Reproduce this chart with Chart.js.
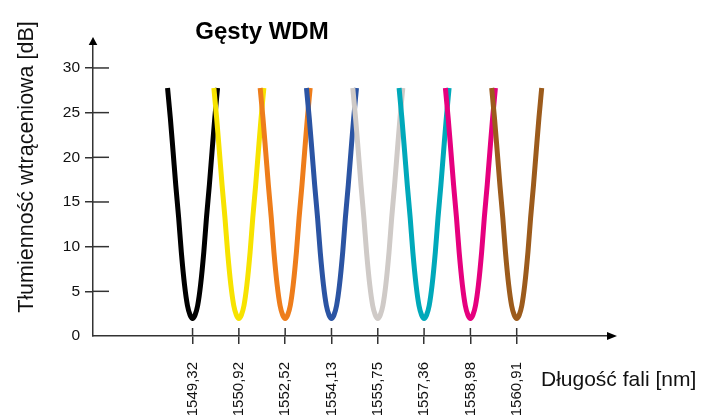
<!DOCTYPE html>
<html>
<head>
<meta charset="utf-8">
<script src="https://cdn.jsdelivr.net/npm/chart.js@4/dist/chart.umd.min.js"></script>
<style>
  body { margin: 0; background: #fff; }
  #wrap { width: 717px; height: 416px; }
</style>
</head>
<body>
<div id="wrap"><canvas id="myChart" width="717" height="416"></canvas></div>
<script>
'use strict';

// kanaly DWDM [nm], rowno rozstawione na osi
let channels = ['1549,32', '1550,92', '1552,52', '1554,13', '1555,75', '1557,36', '1558,98', '1560,91'];
let channelPos = [1, 2, 3, 4, 5, 6, 7, 8];
let curveColors = ['#000000', '#f7e300', '#ee7d1b', '#2b54a3', '#cfcac7', '#00a9ba', '#e6007e', '#9c5b1c'];

// ksztalt jednej krzywej (przesuniecie od srodka kanalu, tlumiennosc w dB)
let shapeOffset = [-0.54, -0.48, -0.42, -0.363, -0.30, -0.243, -0.173, -0.11, -0.054, 0,
                   0.054, 0.11, 0.173, 0.243, 0.30, 0.363, 0.42, 0.48, 0.54];
let shapeLoss = [27.75, 24.4, 20.6, 16.9, 13.2, 9.4, 5.7, 3.4, 2.35, 1.95,
                 2.35, 3.4, 5.7, 9.4, 13.2, 16.9, 20.6, 24.4, 27.75];

let yTicks = [0, 5, 10, 15, 20, 25, 30];

let chartTitle = 'Gęsty WDM';
let yTitle = 'Tłumienność wtrąceniowa [dB]';
let xTitle = 'Długość fali [nm]';

let fontFam = "'Liberation Sans', Arial, sans-serif";
let axisColor = '#333';

let allDatasets = [];
for (let i = 0; i < channels.length; i++) {
  let pts = [];
  for (let j = 0; j < shapeOffset.length; j++) {
    pts.push({ x: channelPos[i] + shapeOffset[j], y: shapeLoss[j] });
  }
  allDatasets.push({
    label: channels[i],
    data: pts,
    borderColor: curveColors[i],
    borderWidth: 5,
    borderCapStyle: 'butt',
    pointRadius: 0,
    fill: false,
    cubicInterpolationMode: 'monotone',
    order: channels.length - i
  });
}

// osie ze strzalkami, tytuly
let extrasPlugin = {
  id: 'extras',
  afterDraw(chart) {
    let ctx = chart.ctx;
    let xs = chart.scales.x;
    let ys = chart.scales.y;
    let area = chart.chartArea;
    ctx.save();
    ctx.strokeStyle = axisColor;
    ctx.fillStyle = axisColor;
    ctx.lineWidth = 1.5;

    // kreski podzialki po wewnetrznej stronie osi
    yTicks.forEach(function (v) {
      if (v === 0) return;
      let py = ys.getPixelForValue(v);
      ctx.beginPath();
      ctx.moveTo(area.left, py);
      ctx.lineTo(area.left + 16, py);
      ctx.stroke();
    });
    channelPos.forEach(function (v) {
      let px = xs.getPixelForValue(v);
      ctx.beginPath();
      ctx.moveTo(px, area.bottom);
      ctx.lineTo(px, area.bottom - 8);
      ctx.stroke();
    });

    // strzalki
    ctx.fillStyle = '#000';
    ctx.beginPath();
    ctx.moveTo(area.right + 10, area.bottom);
    ctx.lineTo(area.right, area.bottom - 4);
    ctx.lineTo(area.right, area.bottom + 4);
    ctx.closePath();
    ctx.fill();
    ctx.beginPath();
    ctx.moveTo(area.left, area.top - 8);
    ctx.lineTo(area.left - 4.3, area.top);
    ctx.lineTo(area.left + 4.3, area.top);
    ctx.closePath();
    ctx.fill();

    // tytul
    ctx.fillStyle = '#000';
    ctx.font = 'bold 24px ' + fontFam;
    ctx.textAlign = 'center';
    ctx.textBaseline = 'alphabetic';
    ctx.fillText(chartTitle, 262, 39);

    // opis osi x
    ctx.fillStyle = '#111';
    ctx.font = '21px ' + fontFam;
    ctx.textAlign = 'left';
    ctx.fillText(xTitle, 541, 386);

    // opis osi y
    ctx.translate(27, 167);
    ctx.rotate(-Math.PI / 2);
    ctx.textAlign = 'center';
    ctx.textBaseline = 'middle';
    ctx.font = '21.5px ' + fontFam;
    ctx.fillText(yTitle, 0, 0);
    ctx.restore();
  }
};

Chart.defaults.font.family = fontFam;

let ctx = document.getElementById('myChart').getContext('2d');
let myChart = new Chart(ctx, {
  type: 'line',
  data: { datasets: allDatasets },
  options: {
    responsive: false,
    animation: false,
    devicePixelRatio: 1,
    events: [],
    layout: { padding: { left: 0, top: 45, right: 110, bottom: 0 } },
    plugins: {
      legend: { display: false },
      tooltip: { enabled: false }
    },
    scales: {
      x: {
        type: 'linear',
        min: -1.15,
        max: 9.95,
        afterFit: function (s) { s.height = 80; },
        afterBuildTicks: function (s) {
          s.ticks = channelPos.map(function (v) { return { value: v }; });
        },
        ticks: {
          autoSkip: false,
          minRotation: 90,
          maxRotation: 90,
          padding: 18,
          color: '#111',
          font: { size: 15 },
          callback: function (v) { return channels[channelPos.indexOf(v)]; }
        },
        grid: {
          display: true,
          drawOnChartArea: false,
          drawTicks: true,
          tickLength: 8,
          color: axisColor,
          lineWidth: 1.5
        },
        border: { display: true, color: axisColor, width: 1.5 }
      },
      y: {
        type: 'linear',
        min: 0,
        max: 32.57,
        afterFit: function (s) { s.width = 93; },
        afterBuildTicks: function (s) {
          s.ticks = yTicks.map(function (v) { return { value: v }; });
        },
        ticks: {
          padding: 5,
          color: '#111',
          font: { size: 15.5 },
          callback: function (v) { return String(v); }
        },
        grid: {
          display: true,
          drawOnChartArea: false,
          drawTicks: true,
          tickLength: 8,
          color: function (c) { return c.tick && c.tick.value === 0 ? 'rgba(0,0,0,0)' : axisColor; },
          lineWidth: 1.5
        },
        border: { display: true, color: axisColor, width: 1.5 }
      }
    }
  },
  plugins: [extrasPlugin]
});
</script>
</body>
</html>
